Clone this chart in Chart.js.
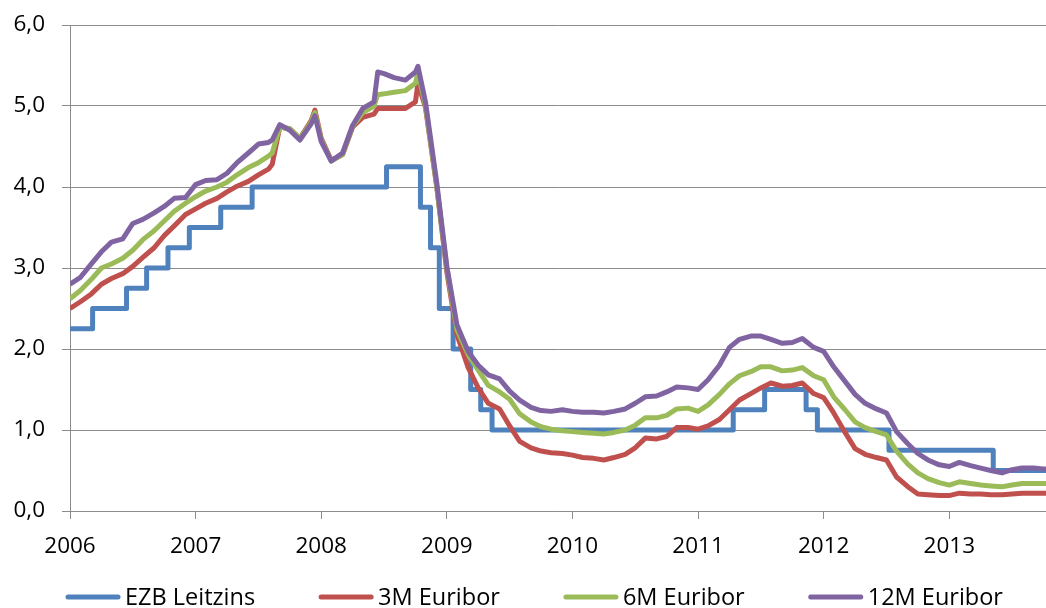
<!DOCTYPE html>
<html lang="de">
<head>
<meta charset="utf-8">
<title>EZB Leitzins und Euribor</title>
<script src="https://cdn.jsdelivr.net/npm/chart.js@4.4.1/dist/chart.umd.min.js"></script>
<style>
  html, body { margin: 0; padding: 0; background: #fff; }
  #wrap { width: 1046px; height: 608px; }
</style>
</head>
<body>
<div id="wrap"><canvas id="zinsChart"></canvas></div>
<script>
// Zeitpunkte als Dezimaljahre (monatlich, plus ein paar Spitzen)
const dates = [
  2006.00, 2006.08, 2006.17, 2006.25, 2006.33, 2006.42, 2006.50, 2006.58, 2006.67, 2006.75, 2006.83, 2006.92,
  2007.00, 2007.08, 2007.17, 2007.25, 2007.33, 2007.42, 2007.50, 2007.58, 2007.61, 2007.67, 2007.75, 2007.83, 2007.92, 2007.95,
  2008.00, 2008.08, 2008.17, 2008.25, 2008.33, 2008.42, 2008.45, 2008.50, 2008.58, 2008.67, 2008.75, 2008.77, 2008.83, 2008.92,
  2009.00, 2009.08, 2009.17, 2009.25, 2009.33, 2009.42, 2009.50, 2009.58, 2009.67, 2009.75, 2009.83, 2009.92,
  2010.00, 2010.08, 2010.17, 2010.25, 2010.33, 2010.42, 2010.50, 2010.58, 2010.67, 2010.75, 2010.83, 2010.92,
  2011.00, 2011.08, 2011.17, 2011.25, 2011.33, 2011.42, 2011.50, 2011.58, 2011.67, 2011.75, 2011.83, 2011.92,
  2012.00, 2012.08, 2012.17, 2012.25, 2012.33, 2012.42, 2012.50, 2012.58, 2012.67, 2012.75, 2012.83, 2012.92,
  2013.00, 2013.08, 2013.17, 2013.25, 2013.33, 2013.42, 2013.50, 2013.58, 2013.67, 2013.75, 2013.83
];

const euribor3m = [
  2.50, 2.58, 2.68, 2.80, 2.87, 2.93, 3.02, 3.13, 3.25, 3.40, 3.52, 3.66,
  3.73, 3.80, 3.86, 3.94, 4.01, 4.07, 4.15, 4.22, 4.28, 4.74, 4.72, 4.60, 4.82, 4.95,
  4.60, 4.33, 4.40, 4.74, 4.86, 4.90, 4.97, 4.97, 4.97, 4.97, 5.05, 5.28, 4.98, 4.00,
  2.95, 2.18, 1.77, 1.52, 1.33, 1.26, 1.05, 0.86, 0.78, 0.74, 0.72, 0.71,
  0.69, 0.66, 0.65, 0.63, 0.66, 0.70, 0.78, 0.90, 0.89, 0.92, 1.03, 1.03,
  1.01, 1.05, 1.13, 1.25, 1.37, 1.45, 1.52, 1.58, 1.54, 1.55, 1.58, 1.45,
  1.40, 1.21, 0.97, 0.77, 0.70, 0.66, 0.63, 0.42, 0.30, 0.21, 0.20, 0.19,
  0.19, 0.22, 0.21, 0.21, 0.20, 0.20, 0.21, 0.22, 0.22, 0.22, 0.22
];

const euribor6m = [
  2.62, 2.72, 2.86, 3.00, 3.05, 3.12, 3.22, 3.35, 3.46, 3.58, 3.70, 3.80,
  3.88, 3.95, 4.00, 4.06, 4.15, 4.24, 4.30, 4.38, 4.42, 4.74, 4.72, 4.60, 4.80, 4.92,
  4.58, 4.32, 4.40, 4.75, 4.92, 5.00, 5.14, 5.15, 5.17, 5.19, 5.28, 5.42, 5.00, 4.00,
  3.00, 2.24, 1.93, 1.74, 1.55, 1.47, 1.38, 1.20, 1.10, 1.04, 1.01, 0.99,
  0.98, 0.97, 0.96, 0.95, 0.97, 1.00, 1.06, 1.15, 1.15, 1.18, 1.26, 1.27,
  1.23, 1.31, 1.44, 1.57, 1.67, 1.72, 1.78, 1.78, 1.73, 1.74, 1.77, 1.67,
  1.62, 1.41, 1.25, 1.10, 1.03, 0.98, 0.94, 0.74, 0.58, 0.47, 0.40, 0.35,
  0.32, 0.36, 0.34, 0.32, 0.31, 0.30, 0.32, 0.34, 0.34, 0.34, 0.34
];

const euribor12m = [
  2.80, 2.88, 3.05, 3.20, 3.32, 3.36, 3.55, 3.60, 3.68, 3.76, 3.86, 3.87,
  4.03, 4.08, 4.09, 4.17, 4.30, 4.42, 4.53, 4.55, 4.58, 4.77, 4.70, 4.58, 4.78, 4.88,
  4.56, 4.32, 4.42, 4.76, 4.97, 5.05, 5.42, 5.40, 5.35, 5.32, 5.42, 5.49, 5.05, 4.05,
  3.02, 2.30, 1.97, 1.80, 1.68, 1.63, 1.48, 1.37, 1.28, 1.24, 1.23, 1.25,
  1.23, 1.22, 1.22, 1.21, 1.23, 1.26, 1.33, 1.41, 1.42, 1.47, 1.53, 1.52,
  1.50, 1.62, 1.80, 2.02, 2.12, 2.16, 2.16, 2.12, 2.07, 2.08, 2.13, 2.02,
  1.97, 1.78, 1.60, 1.44, 1.33, 1.26, 1.21, 0.98, 0.83, 0.71, 0.63, 0.57,
  0.55, 0.60, 0.56, 0.53, 0.50, 0.47, 0.51, 0.53, 0.53, 0.52, 0.52
];

// Leitzinsentscheidungen der EZB (Datum als Dezimaljahr, Satz in %)
const ezbDates = [
  2006.00, 2006.18, 2006.45, 2006.61, 2006.78, 2006.95, 2007.20, 2007.45,
  2008.52, 2008.79, 2008.87, 2008.94, 2009.05, 2009.19, 2009.27, 2009.36,
  2011.28, 2011.53, 2011.86, 2011.95, 2012.52, 2013.35, 2013.83
];
const ezbRate = [
  2.25, 2.50, 2.75, 3.00, 3.25, 3.50, 3.75, 4.00,
  4.25, 3.75, 3.25, 2.50, 2.00, 1.50, 1.25, 1.00,
  1.25, 1.50, 1.25, 1.00, 0.75, 0.50, 0.50
];

const yearTicks = [2006, 2007, 2008, 2009, 2010, 2011, 2012, 2013];

const FONT = '"Open Sans", "Noto Sans", sans-serif';
const GRID = '#8c8c8c';

function series(xs, ys) {
  return xs.map((x, i) => ({ x: x, y: ys[i] }));
}

// Legende unten: Linienstück + Text, wie in Excel
const lineLegend = {
  id: 'lineLegend',
  afterDraw(chart) {
    const ctx = chart.ctx;
    const lineLen = 54, gap = 5, spacing = 64, y = 597;
    ctx.save();
    ctx.font = '23.5px ' + FONT;
    ctx.textBaseline = 'middle';
    let x = 66;
    chart.data.datasets.forEach(ds => {
      ctx.strokeStyle = ds.borderColor;
      ctx.lineWidth = 5;
      ctx.lineCap = 'round';
      ctx.beginPath();
      ctx.moveTo(x + 2, y);
      ctx.lineTo(x + lineLen - 2, y);
      ctx.stroke();
      ctx.fillStyle = '#000';
      ctx.fillText(ds.label, x + lineLen + gap, y + 1);
      x += lineLen + gap + ctx.measureText(ds.label).width + spacing;
    });
    ctx.restore();
  }
};

const ctx = document.getElementById('zinsChart').getContext('2d');
const zinsChart = new Chart(ctx, {
  type: 'line',
  data: {
    datasets: [
      {
        label: 'EZB Leitzins',
        data: series(ezbDates, ezbRate),
        borderColor: '#4F81BD',
        stepped: true,
        order: 4
      },
      {
        label: '3M Euribor',
        data: series(dates, euribor3m),
        borderColor: '#C0504D',
        order: 3
      },
      {
        label: '6M Euribor',
        data: series(dates, euribor6m),
        borderColor: '#9BBB59',
        order: 2
      },
      {
        label: '12M Euribor',
        data: series(dates, euribor12m),
        borderColor: '#8064A2',
        order: 1
      }
    ]
  },
  options: {
    responsive: true,
    maintainAspectRatio: false,
    animation: false,
    layout: { padding: { top: 25, right: 0, bottom: 52, left: 0 } },
    elements: {
      point: { radius: 0 },
      line: { borderWidth: 5, tension: 0, borderJoinStyle: 'round', fill: false }
    },
    scales: {
      x: {
        type: 'linear',
        min: 2006,
        max: 2013.77,
        afterBuildTicks: (scale) => { scale.ticks = yearTicks.map(v => ({ value: v })); },
        afterFit: (scale) => { scale.height = 45; },
        ticks: {
          callback: (v) => String(v),
          color: '#000',
          padding: 14,
          maxRotation: 0,
          font: { family: FONT, size: 22.5 }
        },
        grid: { drawOnChartArea: false, drawTicks: true, tickLength: 8, color: GRID },
        border: { color: GRID }
      },
      y: {
        min: 0,
        max: 6,
        afterFit: (scale) => {
          scale.width = 70;
          scale.paddingTop = 0;
          scale.paddingBottom = 0;
        },
        ticks: {
          stepSize: 1,
          callback: (v) => v.toFixed(1).replace('.', ','),
          color: '#000',
          padding: 17,
          font: { family: FONT, size: 22.5 }
        },
        grid: { color: GRID, tickLength: 8 },
        border: { color: GRID }
      }
    },
    plugins: {
      legend: { display: false },
      tooltip: { enabled: false }
    }
  },
  plugins: [lineLegend]
});
</script>
</body>
</html>
